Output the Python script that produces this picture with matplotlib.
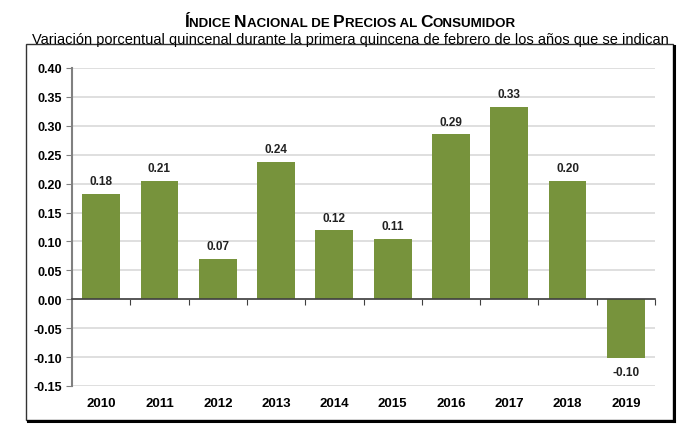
import matplotlib
matplotlib.use('Agg')
import matplotlib.pyplot as plt
from matplotlib.patches import Rectangle
from matplotlib.lines import Line2D

years = ['2010', '2011', '2012', '2013', '2014', '2015', '2016', '2017', '2018', '2019']
values = [0.182, 0.205, 0.069, 0.238, 0.119, 0.105, 0.285, 0.333, 0.205, -0.101]
labels = ['0.18', '0.21', '0.07', '0.24', '0.12', '0.11', '0.29', '0.33', '0.20', '-0.10']
yticks = [-0.15, -0.10, -0.05, 0.00, 0.05, 0.10, 0.15, 0.20, 0.25, 0.30, 0.35, 0.40]

# small caps title: (text, font size)
title_parts = [('Í', 12.5), ('NDICE ', 9.6), ('N', 12.5), ('ACIONAL DE ', 9.6),
               ('P', 12.5), ('RECIOS AL ', 9.6), ('C', 12.5), ('ONSUMIDOR', 9.6)]
subtitle = 'Variación porcentual quincenal durante la primera quincena de febrero de los años que se indican'

bar_color = '#77933C'
font = ['Liberation Sans', 'DejaVu Sans']

fig = plt.figure(figsize=(7, 4.39), dpi=100)

# outer frame with shadow on right and bottom
fig.patches.append(Rectangle((26/700, 1-421/439), (673-26)/700, (421-45)/439,
                             transform=fig.transFigure, fill=False, lw=1.0, ec='#333333'))
fig.lines.append(Line2D([674/700, 674/700], [1-422/439, 1-47/439], transform=fig.transFigure,
                        color='black', lw=2.2))
fig.lines.append(Line2D([28/700, 674/700], [1-422/439, 1-422/439], transform=fig.transFigure,
                        color='black', lw=2.2))

ax = fig.add_axes([72/700, 1-387/439, (655-72)/700, (387-69)/439])
x = list(range(len(years)))
ax.bar(x, values, width=0.65, color=bar_color, zorder=3)

ax.set_xlim(-0.5, len(years) - 0.5)
ax.set_ylim(-0.15, 0.40)
ax.set_yticks(yticks)
ax.set_yticklabels(['%.2f' % v for v in yticks], fontsize=9, fontweight='bold', family=font)
ax.grid(axis='y', color='#D9D9D9', lw=1.2, zorder=0)
ax.tick_params(axis='y', length=4, color='#808080', pad=3)

for s in ['top', 'right']:
    ax.spines[s].set_visible(False)
ax.spines['left'].set_color('#808080')
ax.spines['left'].set_linewidth(1.5)
ax.spines['bottom'].set_position(('data', 0))
ax.spines['bottom'].set_color('#404040')
ax.spines['bottom'].set_linewidth(1.2)
ax.spines['bottom'].set_zorder(4)
# ticks sit between the bars, year labels go at the bottom
ax.set_xticks([i + 0.5 for i in x])
ax.set_xticklabels([])
ax.tick_params(axis='x', length=4, color='#404040')

for xi, yr in zip(x, years):
    ax.text(xi, -0.035, yr, transform=ax.get_xaxis_transform(), ha='center', va='top',
            fontsize=9.5, fontweight='bold', family=font)

for xi, v, lab in zip(x, values, labels):
    if v >= 0:
        ax.text(xi, v + 0.012, lab, ha='center', va='bottom', fontsize=8.5,
                fontweight='bold', family=font, color='#222222')
    else:
        ax.text(xi, v - 0.015, lab, ha='center', va='top', fontsize=8.5,
                fontweight='bold', family=font, color='#222222')

# build the title piece by piece, then center it
renderer = fig.canvas.get_renderer()
pieces = []
xcur = 0.0
for txt, size in title_parts:
    t = fig.text(xcur, 1-27/439, txt, fontsize=size, fontweight='bold', family=font,
                 va='baseline', ha='left')
    pieces.append(t)
    xcur += t.get_window_extent(renderer=renderer).width / fig.bbox.width
shift = 350/700 - xcur/2
for t in pieces:
    t.set_x(t.get_position()[0] + shift)

fig.text(350/700, 1-44/439, subtitle, fontsize=10.5, family=font, ha='center', va='baseline')

fig.savefig('out.png', dpi=100)
